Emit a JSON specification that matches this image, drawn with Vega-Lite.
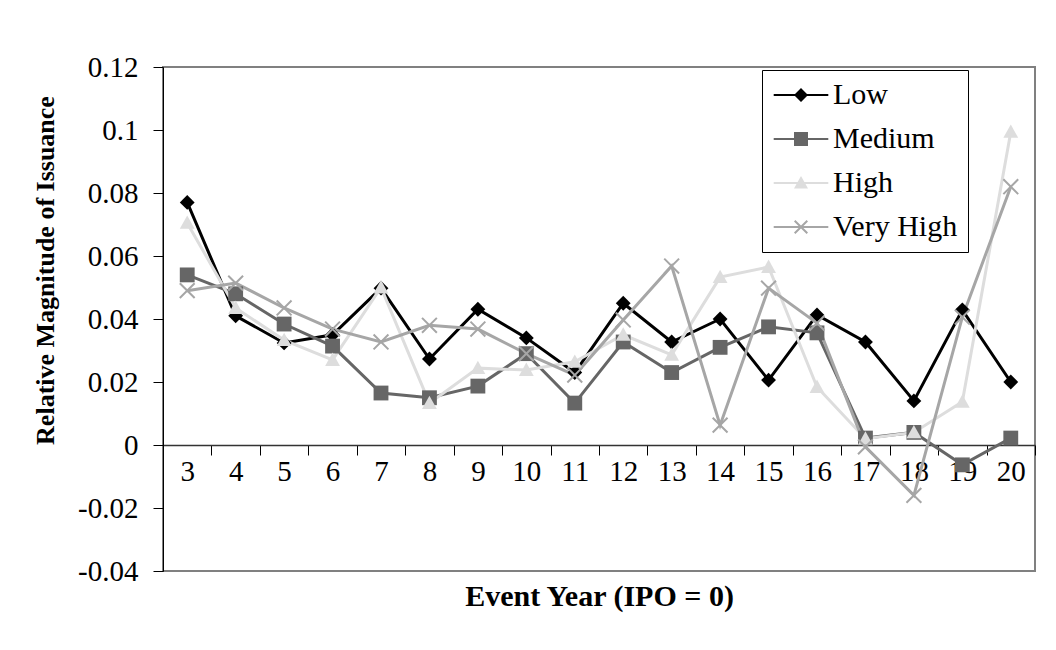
{
  "$schema": "https://vega.github.io/schema/vega-lite/v6.json",
  "autosize": "none",
  "width": 872,
  "height": 504,
  "padding": {"left": 163, "top": 67, "right": 21, "bottom": 79},
  "background": "white",
  "config": {
    "font": "Liberation Serif",
    "view": {"stroke": "#808080", "strokeWidth": 2},
    "axis": {"labelFont": "Liberation Serif", "titleFont": "Liberation Serif", "labelColor": "black", "titleColor": "black", "grid": false}
  },
  "data": {"values": [
    {"year": 3, "series": "Low", "value": 0.077},
    {"year": 4, "series": "Low", "value": 0.041},
    {"year": 5, "series": "Low", "value": 0.0324},
    {"year": 6, "series": "Low", "value": 0.035},
    {"year": 7, "series": "Low", "value": 0.0498},
    {"year": 8, "series": "Low", "value": 0.0273},
    {"year": 9, "series": "Low", "value": 0.0431},
    {"year": 10, "series": "Low", "value": 0.034},
    {"year": 11, "series": "Low", "value": 0.023},
    {"year": 12, "series": "Low", "value": 0.045},
    {"year": 13, "series": "Low", "value": 0.0327},
    {"year": 14, "series": "Low", "value": 0.040},
    {"year": 15, "series": "Low", "value": 0.0206},
    {"year": 16, "series": "Low", "value": 0.0413},
    {"year": 17, "series": "Low", "value": 0.0327},
    {"year": 18, "series": "Low", "value": 0.014},
    {"year": 19, "series": "Low", "value": 0.0429},
    {"year": 20, "series": "Low", "value": 0.020},
    {"year": 3, "series": "Medium", "value": 0.054},
    {"year": 4, "series": "Medium", "value": 0.048},
    {"year": 5, "series": "Medium", "value": 0.0384},
    {"year": 6, "series": "Medium", "value": 0.0314},
    {"year": 7, "series": "Medium", "value": 0.0165},
    {"year": 8, "series": "Medium", "value": 0.015},
    {"year": 9, "series": "Medium", "value": 0.0187},
    {"year": 10, "series": "Medium", "value": 0.029},
    {"year": 11, "series": "Medium", "value": 0.0133},
    {"year": 12, "series": "Medium", "value": 0.0327},
    {"year": 13, "series": "Medium", "value": 0.023},
    {"year": 14, "series": "Medium", "value": 0.031},
    {"year": 15, "series": "Medium", "value": 0.0375},
    {"year": 16, "series": "Medium", "value": 0.0356},
    {"year": 17, "series": "Medium", "value": 0.0022},
    {"year": 18, "series": "Medium", "value": 0.004},
    {"year": 19, "series": "Medium", "value": -0.0063},
    {"year": 20, "series": "Medium", "value": 0.0022},
    {"year": 3, "series": "High", "value": 0.0705},
    {"year": 4, "series": "High", "value": 0.0435},
    {"year": 5, "series": "High", "value": 0.0333},
    {"year": 6, "series": "High", "value": 0.027},
    {"year": 7, "series": "High", "value": 0.050},
    {"year": 8, "series": "High", "value": 0.0133},
    {"year": 9, "series": "High", "value": 0.0244},
    {"year": 10, "series": "High", "value": 0.0238},
    {"year": 11, "series": "High", "value": 0.0264},
    {"year": 12, "series": "High", "value": 0.035},
    {"year": 13, "series": "High", "value": 0.0286},
    {"year": 14, "series": "High", "value": 0.0533},
    {"year": 15, "series": "High", "value": 0.0565},
    {"year": 16, "series": "High", "value": 0.0184},
    {"year": 17, "series": "High", "value": 0.002},
    {"year": 18, "series": "High", "value": 0.004},
    {"year": 19, "series": "High", "value": 0.0137},
    {"year": 20, "series": "High", "value": 0.0994},
    {"year": 3, "series": "Very High", "value": 0.049},
    {"year": 4, "series": "Very High", "value": 0.0514},
    {"year": 5, "series": "Very High", "value": 0.0435},
    {"year": 6, "series": "Very High", "value": 0.0368},
    {"year": 7, "series": "Very High", "value": 0.0327},
    {"year": 8, "series": "Very High", "value": 0.038},
    {"year": 9, "series": "Very High", "value": 0.0368},
    {"year": 10, "series": "Very High", "value": 0.029},
    {"year": 11, "series": "Very High", "value": 0.0222},
    {"year": 12, "series": "Very High", "value": 0.0397},
    {"year": 13, "series": "Very High", "value": 0.0568},
    {"year": 14, "series": "Very High", "value": 0.0063},
    {"year": 15, "series": "Very High", "value": 0.0498},
    {"year": 16, "series": "Very High", "value": 0.0387},
    {"year": 17, "series": "Very High", "value": -0.0006},
    {"year": 18, "series": "Very High", "value": -0.016},
    {"year": 19, "series": "Very High", "value": 0.0406},
    {"year": 20, "series": "Very High", "value": 0.082}
  ]},
  "encoding": {
    "x": {
      "field": "year", "type": "ordinal",
      "scale": {"type": "band", "paddingInner": 0, "paddingOuter": 0},
      "axis": {
        "title": "Event Year (IPO = 0)",
        "titleFontSize": 30, "titleFontWeight": "bold",
        "titleY": 151, "titleBaseline": "middle",
        "labelFontSize": 29, "labelAngle": 0, "labelPadding": 2,
        "offset": -126,
        "tickBand": "extent", "tickSize": 10, "tickColor": "black",
        "domainColor": "#333333", "domainWidth": 1.5
      }
    },
    "y": {
      "field": "value", "type": "quantitative",
      "scale": {"domain": [-0.04, 0.12], "nice": false, "zero": false},
      "axis": {
        "title": "Relative Magnitude of Issuance",
        "titleFontSize": 26, "titleFontWeight": "bold",
        "titleX": -118, "titleY": 203, "titleBaseline": "middle", "titleAlign": "center", "titleAngle": -90,
        "values": [-0.04, -0.02, 0, 0.02, 0.04, 0.06, 0.08, 0.1, 0.12],
        "labelExpr": "'' + datum.value",
        "labelFontSize": 29, "labelPadding": 15,
        "tickSize": 10, "tickColor": "black", "domainColor": "black"
      }
    },
    "color": {
      "field": "series", "type": "nominal",
      "scale": {"domain": ["Low", "Medium", "High", "Very High"], "range": ["#000000", "#666666", "#dddddd", "#a6a6a6"]},
      "legend": {
        "title": null, "orient": "none", "legendX": 599, "legendY": 3,
        "strokeColor": "black", "fillColor": "white", "padding": 10,
        "rowPadding": 14, "symbolSize": 196, "symbolOffset": 14, "labelOffset": 17,
        "labelFont": "Liberation Serif", "labelFontSize": 30, "labelColor": "black", "labelLimit": 400,
        "encode": {"symbols": {
          "update": {
            "shape": {"signal": "datum.value === 'Low' ? 'M-3.9,-0.15H3.9V0.15H-3.9Z M0,-1L1,0L0,1L-1,0Z' : datum.value === 'Medium' ? 'M-3.9,-0.15H3.9V0.15H-3.9Z M-1,-1H1V1H-1Z' : datum.value === 'High' ? 'M-3.9,-0.15H3.9V0.15H-3.9Z M0,-1L1,0.8L-1,0.8Z' : 'M-3.9,-0.15H3.9V0.15H-3.9Z M-1,-0.8L-0.8,-1L1,0.8L0.8,1Z M0.8,-1L1,-0.8L-0.8,1L-1,0.8Z'"},
            "fill": {"signal": "scale('color', datum.value)"},
            "stroke": {"value": "transparent"},
            "strokeWidth": {"value": 0},
            "size": {"value": 196},
            "opacity": {"value": 1}
          },
          "shape": {"value": {"signal": "datum.value === 'Low' ? 'M-3.9,-0.15H3.9V0.15H-3.9Z M0,-1L1,0L0,1L-1,0Z' : datum.value === 'Medium' ? 'M-3.9,-0.15H3.9V0.15H-3.9Z M-1,-1H1V1H-1Z' : datum.value === 'High' ? 'M-3.9,-0.15H3.9V0.15H-3.9Z M0,-1L1,0.8L-1,0.8Z' : 'M-3.9,-0.15H3.9V0.15H-3.9Z M-1,-0.8L-0.8,-1L1,0.8L0.8,1Z M0.8,-1L1,-0.8L-0.8,1L-1,0.8Z'"}},
          "fill": {"value": {"signal": "scale('color', datum.value)"}},
          "stroke": {"value": "transparent"},
          "strokeWidth": {"value": 0},
          "size": {"value": 196},
          "opacity": {"value": 1}
        }}
      }
    }
  },
  "layer": [
    {"mark": {"type": "line", "strokeWidth": 3}},
    {
      "transform": [{"filter": "datum.series === 'Low'"}],
      "mark": {"type": "point", "filled": true, "opacity": 1, "size": 220, "shape": "M0,-1L1,0L0,1L-1,0Z"}
    },
    {
      "transform": [{"filter": "datum.series === 'Medium'"}],
      "mark": {"type": "point", "filled": true, "opacity": 1, "size": 220, "shape": "M-1,-1H1V1H-1Z"}
    },
    {
      "transform": [{"filter": "datum.series === 'High'"}],
      "mark": {"type": "point", "filled": true, "opacity": 1, "size": 220, "shape": "M0,-1L1,0.8L-1,0.8Z"}
    },
    {
      "transform": [{"filter": "datum.series === 'Very High'"}],
      "mark": {"type": "point", "filled": false, "opacity": 1, "size": 220, "strokeWidth": 2, "shape": "M-1,-1L1,1M-1,1L1,-1"}
    }
  ]
}
